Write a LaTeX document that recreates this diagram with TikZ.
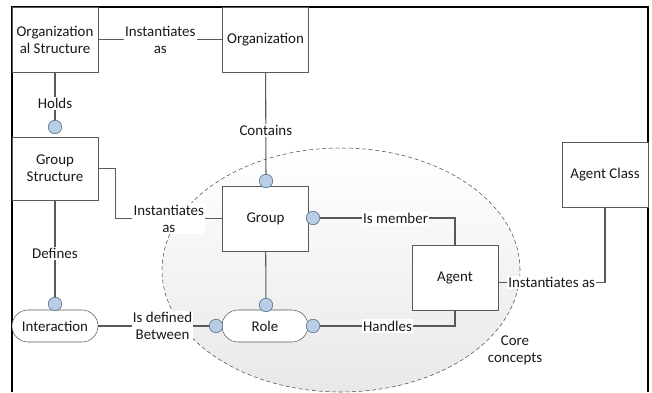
\documentclass[tikz,border=0pt]{standalone}
\usepackage{fontspec}
\setmainfont{Carlito}
\usetikzlibrary{positioning,calc}
\definecolor{linegray}{HTML}{595959}
\definecolor{portblue}{HTML}{B9CDE5}
\definecolor{portedge}{HTML}{5F7A99}

\begin{document}
\begin{tikzpicture}[x=0.75pt, y=-0.75pt,
    every node/.style={font=\fontsize{11.2}{12.8}\selectfont, text=black!90},
    box/.style={draw=linegray, fill=white, minimum width=64.5pt,
                minimum height=48.75pt, align=center, inner sep=1pt},
    pill/.style={box, minimum height=24pt, rounded corners=12pt},
    port/.style={circle, draw=portedge, fill=portblue, minimum size=10pt,
                 inner sep=0pt},
    lbl/.style={fill=white, inner sep=1pt, align=center},
    conn/.style={draw=linegray, line width=0.8pt}
  ]
    \useasboundingbox (0,0) rectangle (652,392);

    % Core concepts area
    \path[draw=black!70, dash pattern=on 3pt off 2pt, top color=white,
          bottom color=black!9]
      (341,270) ellipse [x radius=134.25pt, y radius=91.5pt];
    \node[align=center] (core) at (515,350) {Core\\concepts};

    % Outer frame
    \draw[black, line width=0.8pt] (12,392) -- (12,7) -- (648,7) -- (648,392);

    % Structures
    \node[box] (orgstr) at (55,39.5)  {Organization\\al Structure};
    \node[box] (org)    at (265.5,39.5) {Organization};
    \node[box, minimum height=47.25pt] (grpstr) at (55,168.5) {Group\\Structure};
    \node[box] (agentcls) at (605,174.5) {Agent Class};

    % Concepts
    \node[box]  (group) at (265.5,218.5) {Group};
    \node[box]  (agent) at (455,277.5) {Agent};
    \node[pill] (role)  at (265,326) {Role};
    \node[pill] (inter) at (55,326) {Interaction};

    % Ports
    \node[port] (pholds) at (55,127)  {};
    \node[port] (pcont)  at (266,181) {};
    \node[port] (pmem)   at (313,218) {};
    \node[port] (ptop)   at (266,305) {};
    \node[port] (pleft)  at (216,326) {};
    \node[port] (pright) at (313,326) {};
    \node[port] (pdef)   at (55,304)  {};

    % Relations
    \draw[conn] (orgstr) -- (org)
      node[lbl, midway] {Instantiates\\as};
    \draw[conn] (orgstr) -- (pholds)
      node[lbl, pos=0.65] {Holds};
    \draw[conn] (org) -- (pcont)
      node[lbl, pos=0.57] {Contains};
    \draw[conn] (grpstr.east) -- ++(17,0) |- (group.west)
      node[lbl, pos=0.75] {Instantiates\\as};
    \draw[conn] (grpstr) -- (pdef)
      node[lbl, pos=0.55] {Defines};
    \draw[conn] (inter) -- (pleft)
      node[lbl, pos=0.58] {Is defined\\Between};
    \draw[conn] (group) -- (ptop);
    \draw[conn] (pmem.east) -| (agent.north)
      node[lbl, pos=0.28] {Is member};
    \draw[conn] (agent.south) |- (pright.east)
      node[lbl, pos=0.75] {Handles};
    \draw[conn] ([yshift=-4pt]agent.east) -| (agentcls.south)
      node[lbl, pos=0.25] {Instantiates as};

    % Ports again on top
    \foreach \p in {pholds,pcont,pmem,ptop,pleft,pright,pdef}
      \node[port] at (\p) {};
  \end{tikzpicture}
\end{document}
